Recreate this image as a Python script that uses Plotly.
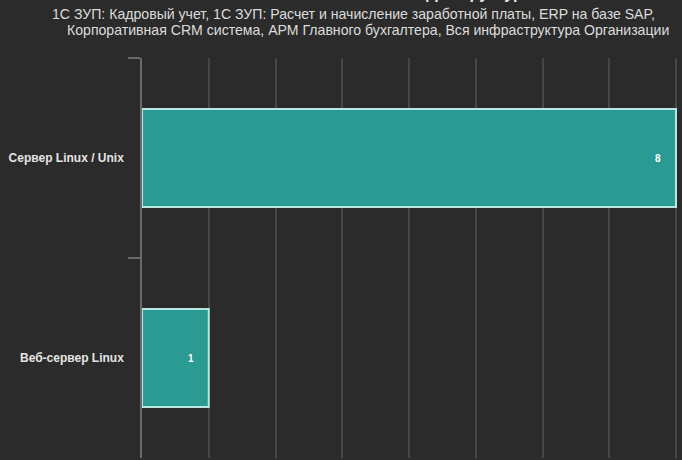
import plotly.graph_objects as go

# Affected infrastructure objects and their counts
categories = ["Сервер Linux / Unix", "Веб-сервер Linux"]
counts = [8, 1]

title_text = "Инфраструктура"
subtitle_lines = [
    "1С ЗУП: Кадровый учет, 1С ЗУП: Расчет и начисление заработной платы, ERP на базе SAP,",
    "Корпоративная CRM система, АРМ Главного бухгалтера, Вся инфраструктура Организации",
]

W, H = 682, 460
PLOT_L, PLOT_T, PLOT_H = 142, 58, 400
BG = "#2b2b2b"
BAR = "#2b9a92"
BAR_EDGE = "#b8e6e0"
GRID = "#474747"
FONT = "Liberation Sans, Arial"


def px_to_paper_x(px):
    return (px - PLOT_L) / (W - PLOT_L)


def px_to_paper_y(py):
    return 1 + (PLOT_T - py) / PLOT_H


fig = go.Figure(
    go.Bar(
        x=counts,
        y=categories,
        orientation="h",
        width=0.49,
        marker=dict(color=BAR, line=dict(color=BAR_EDGE, width=2)),
        hoverinfo="skip",
    )
)

# value labels placed just inside the bar ends
for c, v in zip(categories, counts):
    fig.add_annotation(
        x=v, y=c, xref="x", yref="y", text=f"<b>{v}</b>", showarrow=False,
        xanchor="center", xshift=-18,
        font=dict(family=FONT, size=10, color="#ffffff"),
    )

# chart title, only its lowest part falls inside the page
fig.add_annotation(
    xref="paper", yref="paper", x=px_to_paper_x(465), y=px_to_paper_y(4),
    xanchor="center", yanchor="bottom", text=f"<b>{title_text}</b>",
    showarrow=False, font=dict(family=FONT, size=16, color="#e8e8e8"),
)

sub_x = [50, 65]
sub_y = [14, 30]
for line, px, py in zip(subtitle_lines, sub_x, sub_y):
    fig.add_annotation(
        xref="paper", yref="paper",
        x=px_to_paper_x(px), y=px_to_paper_y(py),
        xanchor="left", yanchor="middle", text=line, showarrow=False,
        font=dict(family=FONT, size=14.1, color="#dcdcdc"),
    )

unit_px = 66.75
fig.update_layout(
    width=W, height=H,
    margin=dict(l=PLOT_L, r=0, t=PLOT_T, b=H - PLOT_T - PLOT_H, pad=0),
    paper_bgcolor=BG, plot_bgcolor=BG,
    showlegend=False,
    xaxis=dict(
        range=[0, (W - PLOT_L) / unit_px],
        dtick=1, tick0=0,
        showgrid=True, gridcolor=GRID, gridwidth=1.5,
        zeroline=False, showticklabels=False, showline=False,
        fixedrange=True,
    ),
    yaxis=dict(
        categoryorder="array", categoryarray=categories, autorange="reversed",
        tickson="boundaries", ticks="outside", ticklen=12, tickcolor="#6a6a6a",
        tickwidth=1.5, ticklabelstandoff=14,
        showline=True, linecolor="#6a6a6a", linewidth=1.5,
        showgrid=False,
        tickfont=dict(family=FONT, size=12, color="#e4e4e4", weight="bold"),
        fixedrange=True,
    ),
)

fig.write_html("out.html", config={"displayModeBar": False})
